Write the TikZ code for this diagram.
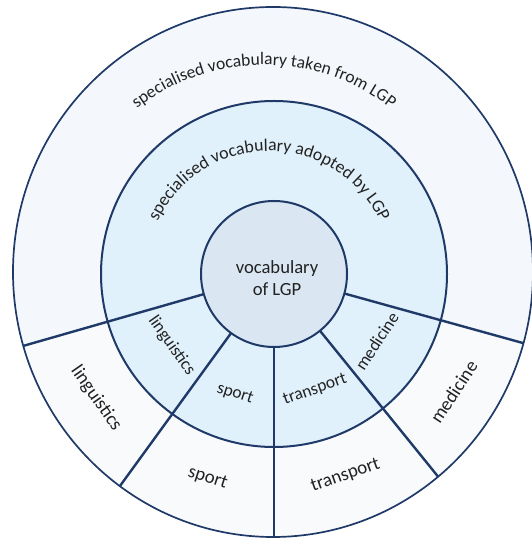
\documentclass[tikz,border=0pt]{standalone}
\usepackage{fontspec}
\setmainfont{Carlito}
\usetikzlibrary{calc,decorations.text}
\definecolor{rim}{HTML}{1F3A68}
\definecolor{outerfill}{HTML}{F4F8FC}
\definecolor{lowerfill}{HTML}{F9FAFC}
\definecolor{midfill}{HTML}{E1F1FB}
\definecolor{corefill}{HTML}{DAE7F3}
\definecolor{ink}{HTML}{222222}
\begin{document}
\begin{tikzpicture}[x=1bp,y=1bp,
  ring/.style={draw=rim, line width=2bp},
  spoke/.style={draw=rim, line width=2.4bp},
  outerlabel/.style={text=ink, inner sep=0pt, font=\fontsize{19}{22}\selectfont},
  midlabel/.style={text=ink, inner sep=0pt, font=\fontsize{17.5}{20}\selectfont}]
\useasboundingbox (0,0) rectangle (532,538);
% centres of the rings
\coordinate (C) at (274,264);
\coordinate (O) at (273,266);
% ring fills
\fill[outerfill] (O) ellipse [x radius=260, y radius=265];
\begin{scope}
  \clip (O) ellipse [x radius=260, y radius=265];
  \fill[lowerfill] (C) -- ++(196:400) arc[start angle=196, end angle=344.5, radius=400] -- cycle;
  \fill[midfill] (C) circle[radius=173];
  \fill[corefill] (C) circle[radius=73];
  % radial dividers between the subject fields
  \foreach \a [count=\i] in {196,234,270,309,344.5} {
    \coordinate (in\i) at ($(C)+(\a:73)$);
    \coordinate (out\i) at ($(C)+(\a:400)$);
    \draw[spoke] (in\i) -- (out\i);
  }
\end{scope}
% ring outlines
\draw[ring, line width=1.7bp] (O) ellipse [x radius=260, y radius=265];
\draw[ring] (C) circle[radius=173];
\draw[ring] (C) circle[radius=73];
% curved ring titles
\coordinate (T1) at (264,266);
\coordinate (T2) at (269,264);
\path[decorate, decoration={text along path, text align=center, text color=ink,
  text={|\fontsize{17.6}{21}\selectfont|specialised vocabulary taken from LGP}}]
  ($(T1)+(172:207)$) arc[start angle=172, end angle=8, radius=207];
\path[decorate, decoration={text along path, text align=center, text color=ink,
  text={|\fontsize{17.8}{20}\selectfont|specialised vocabulary adopted by LGP}}]
  ($(T2)+(178:123)$) arc[start angle=178, end angle=2, radius=123];
% core
\node[text=ink, align=center, font=\fontsize{18.7}{22}\selectfont] (core) at ($(C)+(3,-4)$) {vocabulary\\of LGP};
% subject fields, middle ring
\node[midlabel, rotate=305] (lingM) at ($(C)+(215:125)$) {linguistics};
\node[midlabel, rotate=342] (sportM) at ($(C)+(252:126)$) {sport};
\node[midlabel, rotate=19.5] (transM) at ($(C)+(289.5:123)$) {transport};
\node[midlabel, rotate=56.75] (mediM) at ($(C)+(326.75:123)$) {medicine};
% subject fields, outer ring
\node[outerlabel, rotate=305] (lingO) at ($(C)+(215:217)$) {linguistics};
\node[outerlabel, rotate=342] (sportO) at ($(C)+(252:215)$) {sport};
\node[outerlabel, rotate=19.5] (transO) at ($(C)+(289.5:214)$) {transport};
\node[outerlabel, rotate=56.75] (mediO) at ($(C)+(326.75:215)$) {medicine};
\end{tikzpicture}
\end{document}
